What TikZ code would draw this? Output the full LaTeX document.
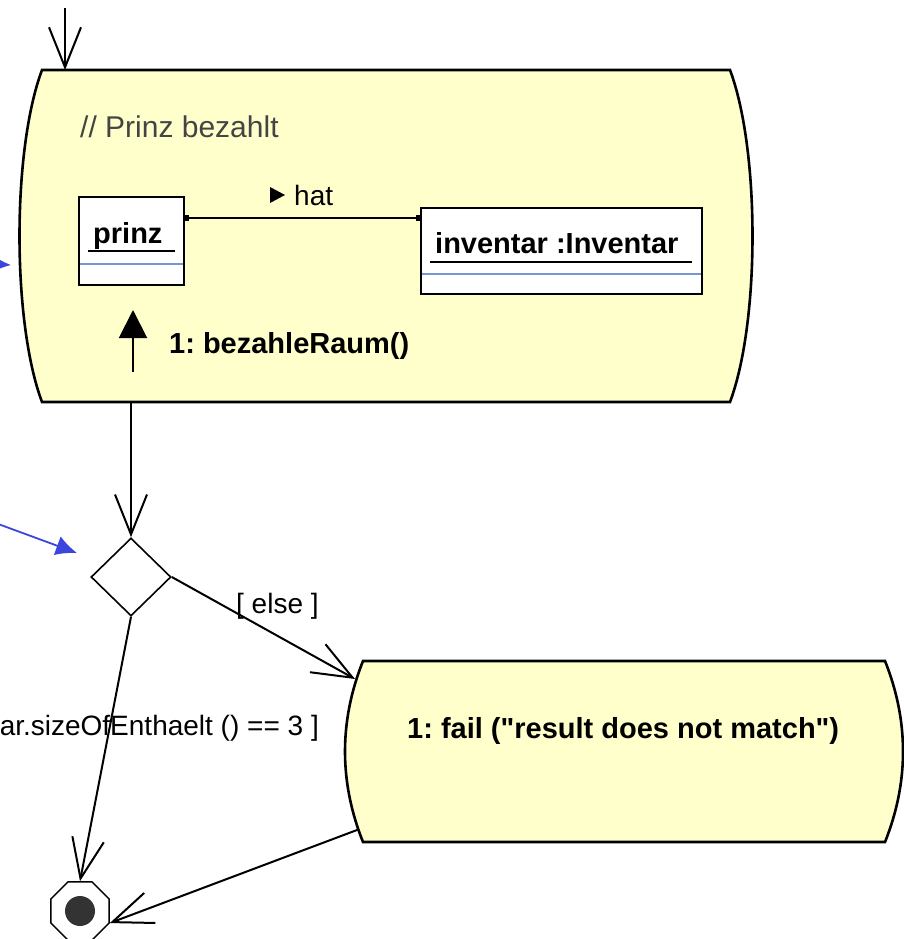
\documentclass[tikz,border=0pt]{standalone}
\usepackage{fontspec}
\setmainfont{Liberation Sans}[Ligatures=TeXOff]
\usetikzlibrary{arrows.meta,shapes.geometric,calc}

\definecolor{actfill}{HTML}{FFFFCC}
\definecolor{noteblue}{HTML}{3C46DC}
\definecolor{sepblue}{HTML}{7896D2}
\definecolor{commentgray}{HTML}{444444}
\definecolor{dotgray}{HTML}{333333}

\tikzset{
  flow/.style={line width=2pt, -{Straight Barb[length=40pt,width=32pt]}},
  actborder/.style={draw=black, line width=2.6pt, fill=actfill},
  objbox/.style={draw=black, line width=2.2pt, fill=white, inner sep=0pt},
  sepline/.style={draw=sepblue, line width=1.8pt},
  nameline/.style={draw=black, line width=2pt},
  boldtxt/.style={font=\fontsize{29}{34}\selectfont\bfseries\frenchspacing, inner sep=0pt},
  plaintxt/.style={font=\fontsize{28}{33}\selectfont\frenchspacing, inner sep=0pt},
  commenttxt/.style={font=\fontsize{30}{35}\selectfont, text=commentgray, inner sep=0pt},
  notearrow/.style={draw=noteblue, line width=1.8pt, -{Latex[length=21pt,width=20pt]}},
  anchorbox/.style={inner sep=0pt, outer sep=0pt},
}

\begin{document}
\begin{tikzpicture}[x=1pt,y=-1pt]
\path[use as bounding box, clip] (0,0) rectangle (904,939);

% ---------- activity "Prinz bezahlt" ----------
\node[anchorbox, minimum width=688pt, minimum height=332pt] (act) at (386,236) {};
\path[actborder] (act.north west) -- (act.north east)
  .. controls ($(act.north east)+(30,80)$) and ($(act.south east)+(30,-80)$) .. (act.south east)
  -- (act.south west)
  .. controls ($(act.south west)+(-30,-80)$) and ($(act.north west)+(-30,80)$) .. cycle;

\node[commenttxt, anchor=base west] (comment) at (80,137) {// Prinz bezahlt};

% object prinz
\node[objbox, minimum width=105pt, minimum height=88pt] (prinz) at (131.5,241) {};
\node[boldtxt, anchor=base west] (prinzname) at (93,243) {prinz};
\draw[nameline] (88,251) -- (175,251);
\draw[sepline] (80,264) -- (183,264);

% object inventar
\node[objbox, minimum width=281pt, minimum height=86pt] (inv) at (561.5,251) {};
\node[boldtxt, anchor=base west] (invname) at (435,253) {inventar :Inventar};
\draw[nameline] (430,262) -- (692,262);
\draw[sepline] (422,274) -- (701,274);

% link "hat"
\coordinate (hatrow) at (300,218);
\draw[line width=2pt, {Square[length=4pt,width=6pt]}-{Square[length=4pt,width=6pt]}]
  (prinz.east |- hatrow) -- (inv.west |- hatrow);
\fill (270,187) -- (285,195) -- (270,203) -- cycle;
\node[plaintxt, anchor=base west] (hatlabel) at (294,205) {hat};

% message
\coordinate (msgfrom) at (133,372);
\coordinate (msgto) at (133,310);
\draw[line width=2pt, -{Triangle[length=28pt,width=28pt]}] (msgfrom) -- (msgto);
\node[boldtxt, anchor=base west] (msg) at (169,353) {1: bezahleRaum()};

% ---------- decision ----------
\node[diamond, draw, line width=1.6pt, fill=white, minimum width=80pt, minimum height=78pt, inner sep=0pt] (dec) at (131,577) {};

% ---------- activity fail ----------
\node[anchorbox, minimum width=522pt, minimum height=181pt] (fail) at (624,751.5) {};
\path[actborder] (fail.north west) -- (fail.north east)
  .. controls ($(fail.north east)+(24,60)$) and ($(fail.south east)+(24,-60)$) .. (fail.south east)
  -- (fail.south west)
  .. controls ($(fail.south west)+(-24,-60)$) and ($(fail.north west)+(-24,60)$) .. cycle;
\node[boldtxt, anchor=base west] (failtxt) at (407,738) {1: fail ("result does not match")};

% ---------- final state ----------
\node[regular polygon, regular polygon sides=8, draw, line width=1.4pt, minimum size=63pt, inner sep=0pt] (final) at (80,911) {};
\node[circle, fill=dotgray, minimum size=30pt, inner sep=0pt] (finaldot) at (final.center) {};

% ---------- transitions ----------
\coordinate (start) at (65,8);
\coordinate (actin) at (65,70);
\coordinate (actout) at (131,402);
\coordinate (failin) at (355,679);
\coordinate (failout) at (357,830);

\draw[flow] (start) -- (actin);
\draw[flow] (actout) -- (dec.north);
\draw[flow] (dec.east) -- (failin);
\draw[flow] (dec.south) -- (final.north);
\draw[flow] (failout) -- (final.-22.5);

\node[plaintxt, anchor=base west] (elseguard) at (236,613) {[ else ]};
\node[plaintxt, anchor=base east] (sizeguard) at (319,735) {ar.sizeOfEnthaelt () == 3 ]};

% ---------- note pointers ----------
\coordinate (noteAfrom) at (-40,262);
\coordinate (noteAto) at (11,265);
\coordinate (noteBfrom) at (-10,521);
\coordinate (noteBto) at (77,553);
\draw[notearrow] (noteAfrom) -- (noteAto);
\draw[notearrow] (noteBfrom) -- (noteBto);
\end{tikzpicture}
\end{document}
